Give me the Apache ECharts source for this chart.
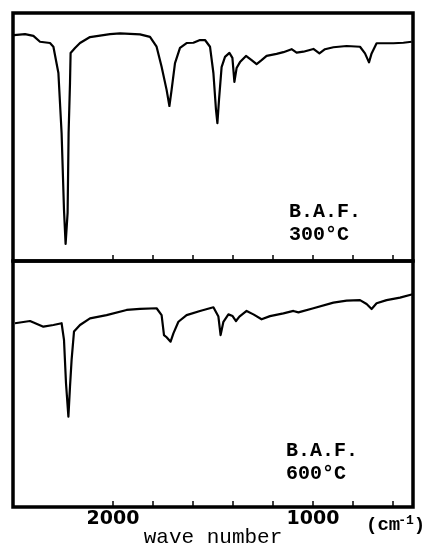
<!DOCTYPE html>
<html>
<head>
<meta charset="utf-8">
<script src="https://cdn.jsdelivr.net/npm/echarts@6/dist/echarts.min.js"></script>
<style>
html,body{margin:0;padding:0;background:#fff;}
#chart{width:423px;height:543px;}
</style>
</head>
<body>
<div id="chart"></div>
<script>
// Wave numbers (cm^-1) and transmittance (% of panel height), B.A.F. 300 °C
const wn300 = [2495,2440,2398,2365,2315,2298,2273,2257,2245,2237,2227,2222,2215,2212,2190,2165,2115,2015,1965,1865,1815,1782,1757,1732,1718,1707,1690,1665,1632,1598,1565,1540,1515,1498,1485,1478,1470,1457,1440,1418,1403,1393,1382,1365,1335,1307,1282,1257,1232,1182,1148,1107,1082,1048,998,968,940,898,832,765,740,720,707,682,598,548,507];
const tr300 = [91.1,91.5,90.8,88.4,87.9,86.4,75.8,51.6,20.6,6.9,19.4,51.6,71.8,83.9,85.9,87.9,90.3,91.5,91.8,91.4,90.4,86.4,78.3,69.0,62.5,69.0,79.8,85.9,87.9,88.0,89.1,89.1,86.4,75.8,60.9,55.6,64.9,78.2,82.3,83.9,81.9,72.2,77.8,80.2,82.7,81.0,79.4,81.0,82.7,83.5,84.2,85.4,84.0,84.4,85.5,83.7,85.4,86.2,86.7,86.4,83.7,80.1,83.7,87.8,87.8,88.0,88.4];

// B.A.F. 600 °C
const wn600 = [2490,2415,2348,2298,2257,2245,2235,2223,2215,2207,2195,2165,2115,2032,1932,1865,1782,1757,1745,1732,1712,1698,1673,1632,1565,1498,1473,1462,1448,1423,1402,1385,1368,1332,1298,1257,1215,1148,1098,1073,998,898,832,765,732,707,682,632,565,502];
const tr600 = [74.7,75.6,73.3,74.0,74.7,67.9,50.3,36.7,48.9,59.8,71.3,74.0,76.7,78.0,80.1,80.5,80.8,78.0,69.9,69.0,67.2,70.6,75.3,78.0,79.7,81.2,77.4,69.9,75.3,78.3,77.6,75.6,77.4,79.7,78.3,76.3,77.6,78.7,79.7,79.1,80.8,83.1,83.9,84.1,82.5,80.5,82.8,84.1,85.1,86.5];

const tickValues = [2000,1800,1600,1400,1200,1000,800,600];
const labelValues = [2000,1000];
const panelLabels = [["B.A.F.","300°C"],["B.A.F.","600°C"]];
const axisTitle = "wave number";
const unitLabel = "(cm";

const pairs = (xs, ys) => xs.map((x, i) => [x, ys[i]]);

const chart = echarts.init(document.getElementById('chart'), null, {renderer: 'canvas'});

const xBase = (gi, showLabels) => ({
  gridIndex: gi, type: 'value', inverse: true, min: 500, max: 2500,
  axisLine: {show: false},
  splitLine: {show: false},
  axisTick: {show: true, inside: true, length: 6, customValues: tickValues,
             lineStyle: {color: '#000', width: 1.5}},
  axisLabel: showLabels ? {show: true, customValues: labelValues, color: '#000',
             formatter: v => String(v),
             fontFamily: 'DejaVu Sans', fontSize: 19, fontWeight: 'bold', margin: 3} : {show: false},
  name: showLabels ? axisTitle : '',
  nameLocation: 'middle', nameGap: 20, nameMoveOverlap: false,
  nameTextStyle: {fontFamily: 'Liberation Mono', fontSize: 21, color: '#000'}
});

const lineStyle = {color: '#000', width: 2.2, join: 'round'};
const txt = (x, y, s) => ({type: 'text', left: x, top: y,
  style: {text: s, font: 'bold 20px "Liberation Mono"', fill: '#000'}});

chart.setOption({
  animation: false,
  backgroundColor: '#fff',
  grid: [
    {left: 13, right: 10, top: 13, height: 248, show: true, borderColor: '#000', borderWidth: 3.5, backgroundColor: 'transparent', containLabel: false, outerBoundsMode: 'none'},
    {left: 13, right: 10, top: 261, height: 246, show: true, borderColor: '#000', borderWidth: 3.5, backgroundColor: 'transparent', containLabel: false, outerBoundsMode: 'none'}
  ],
  xAxis: [xBase(0, false), xBase(1, true)],
  yAxis: [
    {gridIndex: 0, type: 'value', min: 0, max: 100, show: false},
    {gridIndex: 1, type: 'value', min: 0, max: 100, show: false}
  ],
  series: [
    {type: 'line', xAxisIndex: 0, yAxisIndex: 0, data: pairs(wn300, tr300), showSymbol: false, lineStyle: lineStyle, smooth: false},
    {type: 'line', xAxisIndex: 1, yAxisIndex: 1, data: pairs(wn600, tr600), showSymbol: false, lineStyle: lineStyle, smooth: false}
  ],
  graphic: [
    txt(289, 202, panelLabels[0][0]),
    txt(289, 225, panelLabels[0][1]),
    txt(286, 441, panelLabels[1][0]),
    txt(286, 464, panelLabels[1][1]),
    {type: 'text', left: 366, top: 514,
     style: {text: '{a|' + unitLabel + '}{s|-1}{a|)}',
       rich: {a: {font: 'bold 19px "Liberation Mono"', fill: '#000', verticalAlign: 'bottom'},
              s: {font: 'bold 13px "Liberation Mono"', fill: '#000', verticalAlign: 'top', padding: [0,0,8,-2]}},
       fill: '#000'}}
  ]
});
</script>
</body>
</html>
